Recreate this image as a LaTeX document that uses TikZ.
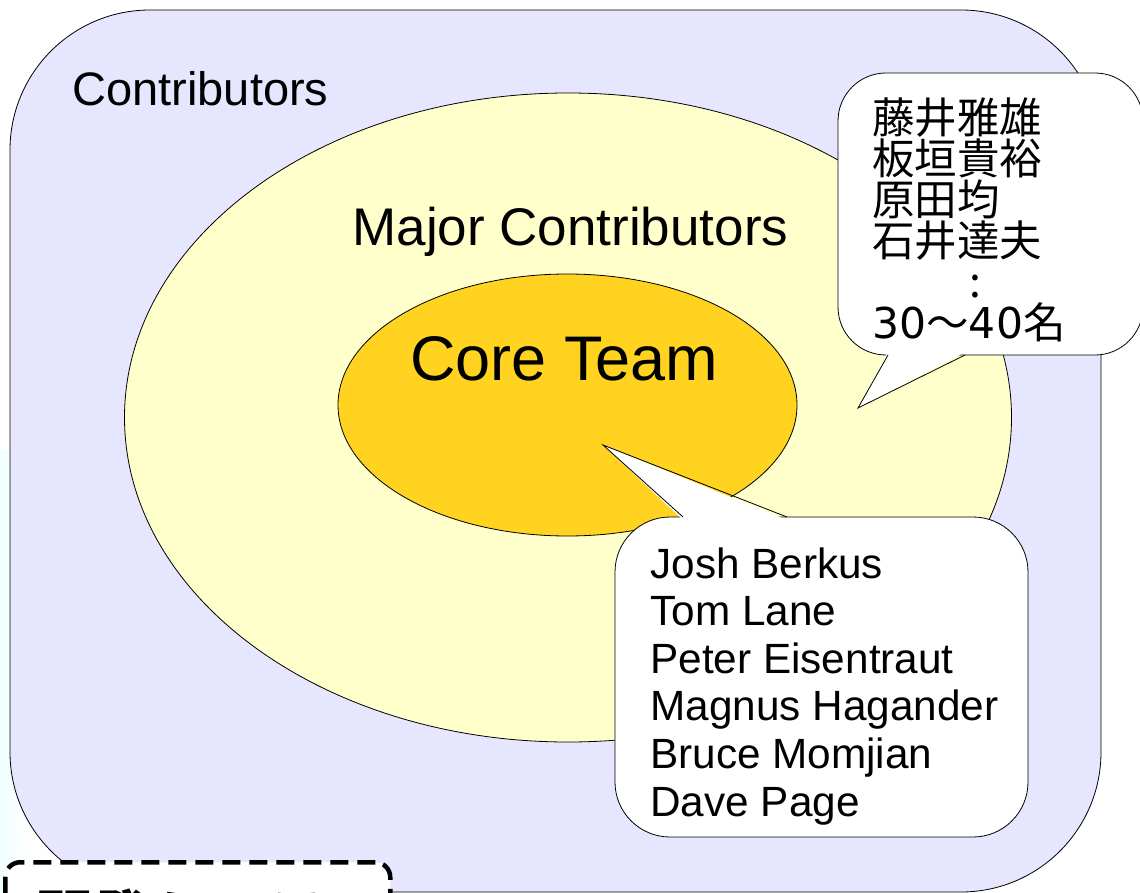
\documentclass[tikz,border=0pt]{standalone}
\usepackage{fontspec}
\setmainfont{Liberation Sans}
\newfontfamily\jpfont{Noto Sans CJK JP}
\newfontfamily\digitfont{DejaVu Sans}
\usetikzlibrary{shapes.geometric}
\definecolor{lavender}{HTML}{E6E6FF}
\definecolor{paleyellow}{HTML}{FFFFCC}
\definecolor{coregold}{HTML}{FFD320}
\lineskiplimit=-100pt

\begin{document}
\begin{tikzpicture}[x=1pt, y=-1pt, line width=0.8pt,
  every node/.style={inner sep=0pt, font=\fontsize{42.3}{47.6}\selectfont},
  bubble/.style={draw, fill=white, rectangle, rounded corners=#1}]
  \clip (0,0) rectangle (1140,893);
  % Background
  \fill[white] (0,0) rectangle (1140,893);
  \shade[left color=cyan!6, right color=white] (0,450) rectangle (30,893);

  % Rings
  \node[draw, fill=lavender, rectangle, rounded corners=140pt, minimum width=1091pt, minimum height=882pt] (contrib) at (555.5,451) {};
  \node[draw, fill=paleyellow, ellipse, minimum width=887pt, minimum height=649pt] (major) at (568,417.5) {};
  \node[draw, fill=coregold, ellipse, minimum width=459pt, minimum height=262pt] (core) at (567.5,405) {};

  % Ring labels
  \node[anchor=base west, font=\fontsize{47}{56}\selectfont] (contribtxt) at (72,106) {Contributors};
  \node[anchor=base west, font=\fontsize{53}{60}\selectfont] (majortxt) at (352,246) {Major Contributors};
  \node[anchor=base west, font=\fontsize{63}{70}\selectfont] (coretxt) at (410,380) {Core Team};

  % Callout for the major contributors
  \node[bubble=48pt, minimum width=305pt, minimum height=282pt] (jpnote) at (990.5,214) {};
  \coordinate (jptip) at (858,408);
  \fill[white] (888,352) -- (jptip) -- (965,352) -- cycle;
  \draw (888,355) -- (jptip) -- (965,355);
  \node[anchor=north west, align=left, font=\jpfont\fontsize{42.5}{41}\selectfont] (jpnames) at (872,97)
    {藤井雅雄\\板垣貴裕\\原田均\\石井達夫\\\hbox to 97pt{}:\\{\digitfont 30}～{\digitfont 40}名};

  % Callout for the core team
  \node[bubble=55pt, minimum width=413pt, minimum height=320pt] (corenote) at (821.5,677) {};
  \coordinate (coretip) at (603,445);
  \fill[white] (683,520) -- (coretip) -- (787,520) -- cycle;
  \draw (683,517) -- (coretip) -- (787,517);
  \node[anchor=north west, align=left] (corenames) at (650,547)
    {Josh Berkus\\Tom Lane\\Peter Eisentraut\\Magnus Hagander\\Bruce Momjian\\Dave Page};

  % Dashed box at the bottom
  \node[draw, fill=white, rounded corners=15pt, line width=4.5pt, dash pattern=on 18pt off 9pt, minimum width=385pt, minimum height=100pt, anchor=north west] (devbox) at (3,860) {};
  \node[anchor=north west, align=left, font=\jpfont\bfseries\fontsize{58}{66}\selectfont] (devtxt) at (35,888) {開発ミーティ\\ング};
\end{tikzpicture}
\end{document}
